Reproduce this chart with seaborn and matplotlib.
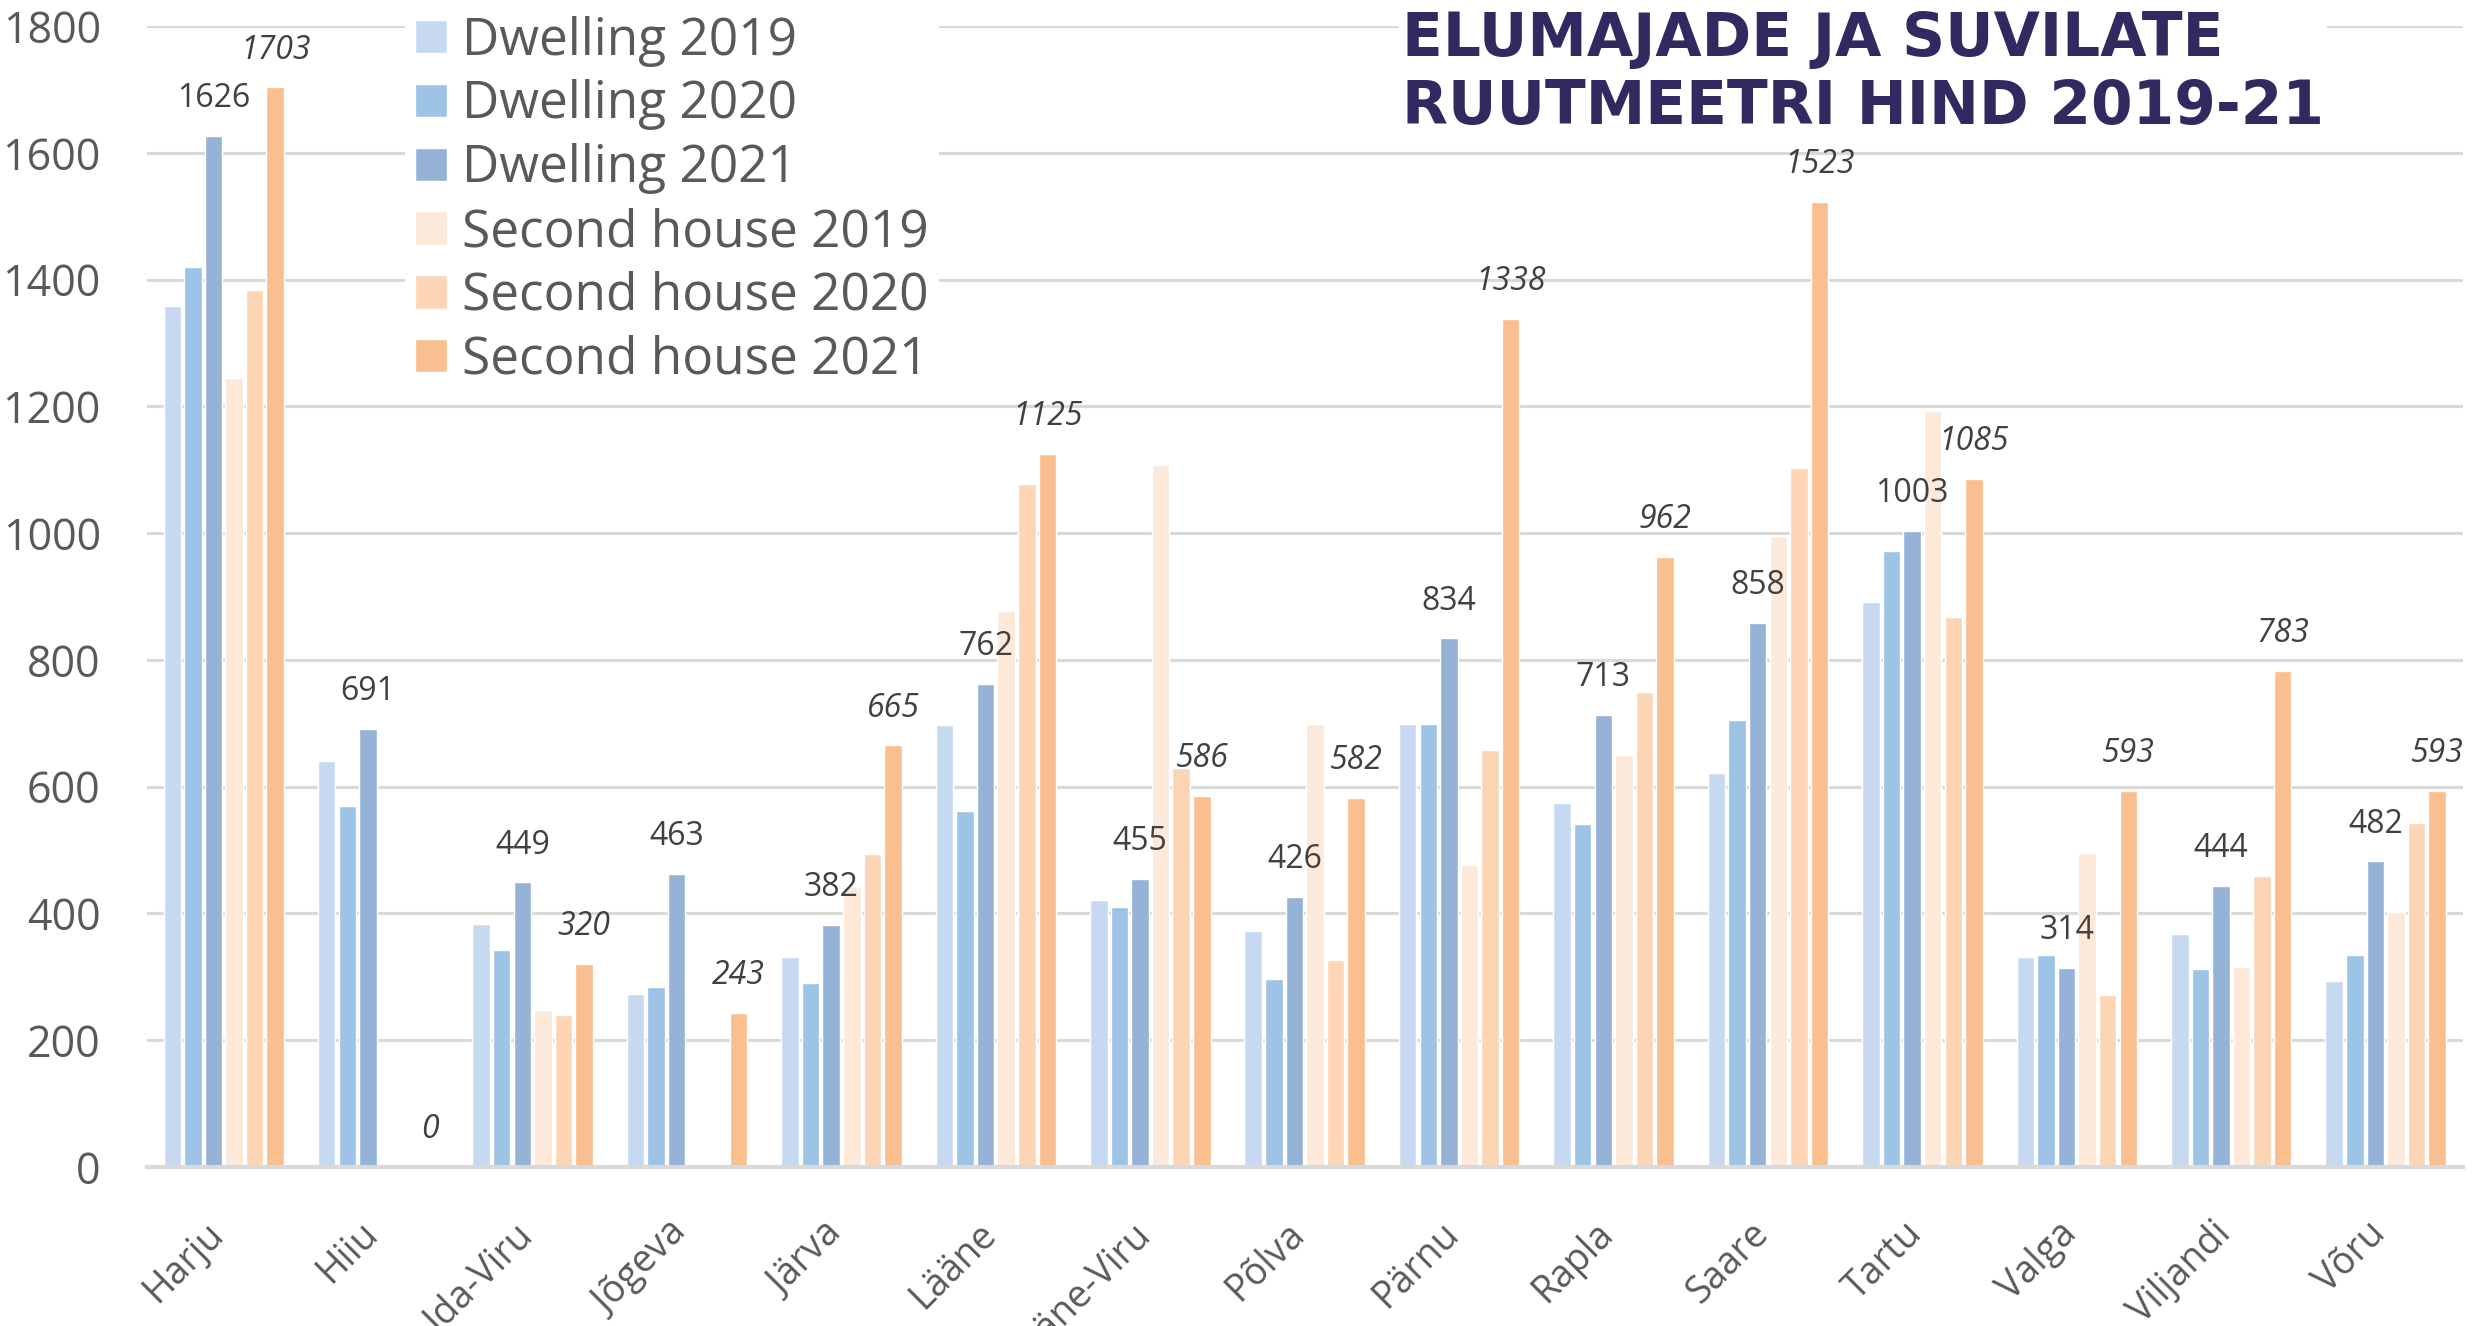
import pandas as pd
import seaborn as sns
from matplotlib import pyplot as plt
from matplotlib.transforms import ScaledTranslation

regions = ["Harju", "Hiiu", "Ida-Viru", "Jõgeva", "Järva", "Lääne", "Lääne-Viru", "Põlva",
           "Pärnu", "Rapla", "Saare", "Tartu", "Valga", "Viljandi", "Võru"]
series_names = ["Dwelling 2019", "Dwelling 2020", "Dwelling 2021",
                "Second house 2019", "Second house 2020", "Second house 2021"]

dwelling_2019 = [1358, 640, 383, 273, 332, 698, 421, 373, 699, 574, 621, 892, 331, 367, 294]
dwelling_2020 = [1420, 570, 343, 284, 291, 562, 410, 297, 699, 541, 705, 972, 334, 313, 334]
dwelling_2021 = [1626, 691, 449, 463, 382, 762, 455, 426, 834, 713, 858, 1003, 314, 444, 482]
second_2019 = [1244, 0, 247, 0, 441, 877, 1107, 699, 476, 650, 996, 1192, 495, 316, 403]
second_2020 = [1383, 0, 240, 0, 493, 1077, 629, 326, 658, 749, 1103, 868, 272, 459, 543]
second_2021 = [1703, 0, 320, 243, 665, 1125, 586, 582, 1338, 962, 1523, 1085, 593, 783, 593]

colors = ["#c6d9f1", "#9dc3e6", "#95b3d7", "#fde9d9", "#fcd5b5", "#f9bf8f"]

all_series = [dwelling_2019, dwelling_2020, dwelling_2021, second_2019, second_2020, second_2021]
df = pd.concat([
    pd.DataFrame({"region": regions, "series": name, "value": vals})
    for name, vals in zip(series_names, all_series)
])

sns.set_style("white")
plt.rcParams["font.family"] = ["Open Sans", "DejaVu Sans"]

fig = plt.figure(figsize=(24.84, 13.26), dpi=100)
ax = fig.add_axes([0.0590, 0.1199, 0.9325, 0.8605])

sns.barplot(data=df, x="region", y="value", hue="series", hue_order=series_names,
            palette=colors, saturation=1, width=0.8, gap=0.15, ax=ax)

ax.set_xlim(-0.5, len(regions) - 0.5)
ax.set_ylim(0, 1800)
ax.set_yticks(range(0, 1801, 200))
ax.set_xlabel("")
ax.set_ylabel("")
ax.yaxis.grid(True, color="#d9d9d9", linewidth=2.2)
ax.set_axisbelow(True)
for s in ["top", "right", "left"]:
    ax.spines[s].set_visible(False)
ax.spines["bottom"].set_color("#d9d9d9")
ax.spines["bottom"].set_linewidth(3)

ax.tick_params(axis="y", length=0, pad=33, labelsize=31, labelcolor="#595959")
ax.tick_params(axis="x", length=0, pad=44, labelsize=27, labelcolor="#595959")
for lab in ax.get_xticklabels():
    lab.set_rotation(45)
    lab.set_ha("right")
    lab.set_va("center")
    lab.set_rotation_mode("anchor")
    lab.set_transform(lab.get_transform() + ScaledTranslation(-4 / 72, 0, fig.dpi_scale_trans))

ax.bar_label(ax.containers[2], padding=15, fontsize=23, color="#404040")
ax.bar_label(ax.containers[5], padding=15, fontsize=23, color="#404040", fontstyle="italic")

handles, labels = ax.get_legend_handles_labels()
leg = ax.legend(handles, labels, loc="upper left", bbox_to_anchor=(0.163, 0.996),
                bbox_transform=fig.transFigure, fontsize=37, frameon=True,
                facecolor="white", edgecolor="none", framealpha=1,
                handlelength=0.62, handleheight=0.62, handletextpad=0.3,
                labelspacing=0.25, borderpad=0.2, borderaxespad=0)
for t in leg.get_texts():
    t.set_color("#595959")

fig.text(1402 / 2484, 1 - 10 / 1326, "ELUMAJADE JA SUVILATE\nRUUTMEETRI HIND 2019-21",
         ha="left", va="top", fontsize=43, fontweight="bold", color="#302a60",
         family="DejaVu Sans", linespacing=1.2,
         bbox=dict(facecolor="white", edgecolor="none", pad=2))

fig.savefig("out.png", dpi=100)
